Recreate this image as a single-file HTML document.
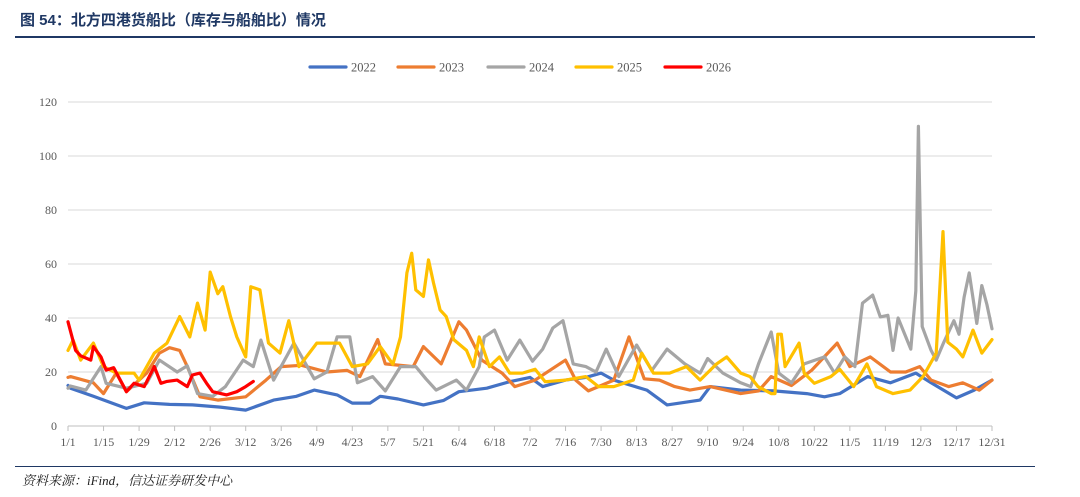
<!DOCTYPE html>
<html><head><meta charset="utf-8">
<style>
html,body{margin:0;padding:0;background:#fff;}
body{width:1080px;height:497px;overflow:hidden;position:relative;font-family:"Liberation Serif","Noto Serif CJK SC",serif;}
#title{position:absolute;left:20px;top:9px;font-size:15px;font-weight:bold;color:#1f3864;font-family:"Liberation Sans","Noto Sans CJK SC",sans-serif;}
#title-rule{position:absolute;left:15px;top:36px;width:1020px;height:2px;background:#1f3864;}
#source-rule{position:absolute;left:15px;top:466px;width:1020px;height:1px;background:#1f3864;}
#source{position:absolute;left:22px;top:470px;font-size:13px;font-style:italic;color:#222;font-family:"Liberation Serif","Noto Serif CJK SC",serif;}
svg{position:absolute;left:0;top:0;}
</style></head>
<body>
<div id="title">图 54：北方四港货船比（库存与船舶比）情况</div>
<div id="title-rule"></div>
<svg id="chart" width="1080" height="497"></svg>
<div id="source-rule"></div>
<div id="source">资料来源：iFind，信达证券研发中心</div>
<script>
const yTicks=[0,20,40,60,80,100,120];
const xTickLabels=["1/1","1/15","1/29","2/12","2/26","3/12","3/26","4/9","4/23","5/7","5/21","6/4","6/18","7/2","7/16","7/30","8/13","8/27","9/10","9/24","10/8","10/22","11/5","11/19","12/3","12/17","12/31"];
const xTickDays=[0,14,28,42,56,70,84,98,112,126,140,154,168,182,196,210,224,238,252,266,280,294,308,322,336,350,364];
const seriesNames=["2022","2023","2024","2025","2026"];
const days2022=[0,1,10,23,30,40,49,60,70,81,90,97,106,112,119,123,130,140,148,154,165,174,182,187,196,204,210,215,222,228,236,241,249,253,265,278,291,298,304,315,324,334,340,350,357,364];
const vals2022=[15,14,11,6.5,8.6,8,7.8,7,5.9,9.6,11,13.3,11.5,8.5,8.5,11,10,7.8,9.5,12.7,14,16.4,18,14.6,17,18,19.6,17,15,13.3,7.8,8.5,9.6,14.6,13.3,13,12,10.8,12,18.3,16,19.6,16,10.4,13.3,17];
const days2023=[0,1,10,14,19,23,31,36,40,44,47,52,59,70,78,84,92,102,110,115,122,125,136,140,147,154,157,163,171,176,184,196,200,205,215,221,227,233,239,245,253,265,272,277,285,293,303,308,316,324,330,335.5,340,347,352.5,359,364];
const vals2023=[18,18.3,16,12,19.6,12.7,19.6,27,29,28,22,10.8,9.6,10.8,17,22,22.5,20,20.6,18.3,32,23,22,29.4,23,38.6,35.5,24.4,19.6,14.6,17,24.4,17,13,17,33,17.5,17,14.6,13.3,14.6,12,13,18.3,15,20.7,30.7,22,25.6,20,20,22,17,14.6,16,13.3,17];
const days2024=[0,1,7,13,15,23,31,36,43,47,51,57,62,69,73,76,81,89,97,102,106,111,114,120,125,131,137,141,145,153,157,162,164,168,173,178,183,187,191,195,199,204,208,212,217,224,230,236,243,249,252,258,265,269,272,277,280,285,290,298,302,306,310,313,317,320,323,325,327,332,334,335,336.5,340,342,345,349,351,353,355,358,360,362,364];
const vals2024=[14,14.8,13.3,22,15.8,14,15.8,24.4,20,22.3,12,11,14.6,24.4,22,31.8,17,30.7,17.5,20,33,33,16,18.3,13,22,22,17.5,13.3,17,13.3,22,33,35.5,24.4,31.8,24,28.5,36.3,39,23,22,20,28.5,18.3,30,20.6,28.5,23,19.6,25,19.6,16,14.6,23,34.8,19.6,16,23,25.6,19.6,25.6,22,45.5,48.5,40.4,41,28,40,28.5,50,111,36.8,28,24.4,31,39,34,47.7,56.7,38,52,45,36];
const days2025=[0,2,5,10,14,19,26,28,34,39,44,48,51,54,56,59,61,64,66.5,70,72,75.6,79,83.5,87,91,98,102,107,112,118,123,128,131,133.5,135.4,137,140,142,144,146.6,149,152,157,159.7,162,166,170,174,179,184,188,196,204,209,215,222.7,226,230.6,237,243.6,249,255.5,259.5,265,268.7,271.8,277,278.5,279.6,281,282.5,288,290,294,300.5,304,309.5,314.7,318.5,325,331.7,336.8,342,344.7,346.6,350,352.5,356.5,360,364];
const vals2025=[28,31.8,24.4,30.7,22,19.6,19.6,17,27,30.7,40.5,33,45.5,35.5,57,49,51.6,40.5,33,25.6,51.6,50.4,30.7,27,39,22,30.7,30.7,30.7,22,23,29.4,22.9,33,56.7,64,50.4,48,61.5,53,43,40.5,32,28,22,33,22,25.6,19.6,19.6,21,16.4,17,18.3,14.6,14.6,17,27,19.6,19.6,22,17,23,25.6,19.6,18.3,14.6,12,12,34,34,22,30.7,19.6,15.8,18.3,21,14.6,23,14.6,12,13.3,18.3,27,72,31,28.5,25.6,35.5,27,32];
const days2026=[0,3,5,9,10,13,15,18,22,23,26,30,34,36.6,39,43,47,49,52,54.6,57,62.5,66.5,70,73];
const vals2026=[38.6,28,26,24.4,29.4,25.6,20.7,21.6,14.6,12.7,15.8,14.6,22,15.8,16.5,17,14.6,18.9,19.6,15.8,12.7,11.5,12.7,14.6,16.5];
const colors=["#4472c4","#ed7d31","#a5a5a5","#ffc000","#ff0000"];

const X0=68,X1=992,Y0=426,Y1=102;
const xScale=d=>X0+(X1-X0)*d/364;
const yScale=v=>Y0-(Y0-Y1)*v/120;
const svg=document.getElementById('chart');
const NS="http://www.w3.org/2000/svg";
function mk(tag,attrs){const e=document.createElementNS(NS,tag);for(const k in attrs)e.setAttribute(k,attrs[k]);svg.appendChild(e);return e;}

yTicks.forEach(v=>{
  const g=mk('line',{x1:X0,x2:X1,y1:yScale(v),y2:yScale(v),stroke:v===0?'#bfbfbf':'#d9d9d9','stroke-width':1});
  
  
  const t=mk('text',{x:57,y:yScale(v)+4,'text-anchor':'end','font-size':12,fill:'#595959','font-family':'Liberation Serif, serif'});
  t.textContent=v;
  
  
});
xTickDays.forEach((d,i)=>{
  const tk=mk('line',{x1:xScale(d),x2:xScale(d),y1:Y0,y2:Y0+5,stroke:'#bfbfbf','stroke-width':1});
  
  
  const t=mk('text',{x:xScale(d),y:446,'text-anchor':'middle','font-size':12,fill:'#595959','font-family':'Liberation Serif, serif'});
  t.textContent=xTickLabels[i];
  
  
});
const allDays=[days2022,days2023,days2024,days2025,days2026];
const allVals=[vals2022,vals2023,vals2024,vals2025,vals2026];
allDays.forEach((ds,i)=>{
  const pts=ds.map((d,j)=>xScale(d).toFixed(1)+','+yScale(allVals[i][j]).toFixed(1)).join(' ');
  const p=mk('polyline',{points:pts,fill:'none',stroke:colors[i],'stroke-width':3.2,'stroke-linejoin':'round','stroke-linecap':'round'});
  
  
});
const legendX=[310,398,488,576,665];
seriesNames.forEach((n,i)=>{
  const l=mk('line',{x1:legendX[i],x2:legendX[i]+36,y1:67,y2:67,stroke:colors[i],'stroke-width':3.2,'stroke-linecap':'round'});
  
  
  const t=mk('text',{x:legendX[i]+41,y:71.5,'font-size':12.5,fill:'#595959','font-family':'Liberation Serif, serif'});
  t.textContent=n;
  
  
});
</script>
</body></html>
